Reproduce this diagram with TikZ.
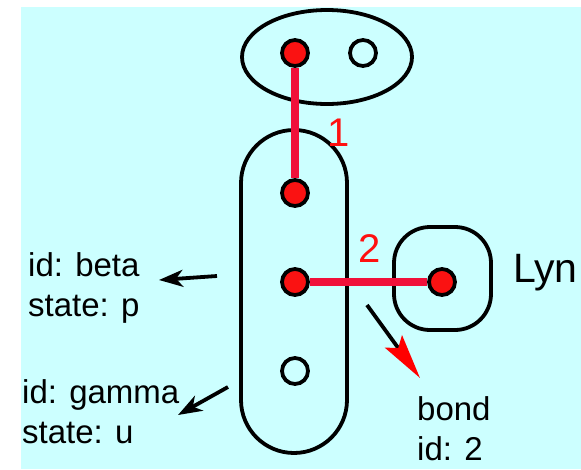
\documentclass[tikz,border=0pt]{standalone}
\usepackage{fontspec}
\setmainfont{Liberation Sans}
\usetikzlibrary{shapes}
\usetikzlibrary{arrows.meta}
\definecolor{bgcyan}{RGB}{204,255,255}
\definecolor{dotred}{RGB}{250,18,18}
\definecolor{bondred}{RGB}{240,16,58}
\definecolor{numred}{RGB}{255,16,16}
\tikzset{
    dotr/.style = {circle, line width=3.8pt, draw=black, fill=dotred, inner sep=0pt, minimum size=26pt},
    doto/.style = {circle, line width=3.8pt, draw=black, fill=none, inner sep=0pt, minimum size=26pt},
    groupe/.style = {ellipse, line width=3.8pt, draw=black, inner sep=0pt, minimum width=170pt, minimum height=94pt},
    groupc/.style = {rectangle, line width=3.8pt, draw=black, inner sep=0pt, minimum width=106pt, minimum height=323pt, rounded corners=53pt},
    groupk/.style = {rectangle, line width=3.8pt, draw=black, inner sep=0pt, minimum width=97pt, minimum height=103pt, rounded corners=36pt},
    info/.style = {inner sep=0pt, align=left, anchor=north west, font=\fontsize{33}{40}\selectfont},
    bondn/.style = {text=numred, inner sep=0pt, font=\fontsize{40}{44}\selectfont},
    bond/.style = {line width=8pt, draw=bondred},
    edgen/.style = {-{Stealth[length=24pt,width=17pt,inset=7pt]}, line width=3.8pt, black},
    edger/.style = {-{Stealth[length=45pt,width=21pt,inset=8pt,red]}, line width=3.8pt, black}
}
\begin{document}
\begin{tikzpicture}[x=1pt, y=-1pt]
  \useasboundingbox (0,0) rectangle (581,469);
  \fill[bgcyan] (21,7) rectangle (581,469);

  % groups
  \node[groupe] (top) at (327,57) {};
  \node[groupc] (chain) at (294,291.5) {};
  \node[groupk] (kin) at (442.5,278.5) {};

  % sites
  \node[dotr] (a1) at (295,53) {};
  \node[doto] (a2) at (363,53) {};
  \node[dotr] (b1) at (295,193) {};
  \node[dotr] (b2) at (295,282) {};
  \node[doto] (b3) at (295,371) {};
  \node[dotr] (c1) at (442,282) {};

  % bonds
  \draw[bond] (a1) -- (b1);
  \draw[bond] (b2) -- (c1);
  \node[bondn] (n1) at (339,133) {1};
  \node[bondn] (n2) at (370,249) {2};

  % labels
  \node[inner sep=0pt, anchor=base west, font=\fontsize{41}{44}\selectfont] (lyn) at (513,282) {Lyn};
  \node[info] (beta) at (28,252) {id: beta\\state: p};
  \node[info] (gamma) at (22,379) {id: gamma\\state: u};
  \node[info] (bondinfo) at (417,396) {bond\\id: 2};

  \coordinate (bt) at (217,276);
  \coordinate (bh) at (159,280);
  \coordinate (gt) at (228,387);
  \coordinate (gh) at (178,415);
  \coordinate (rt) at (367,305);
  \coordinate (rh) at (420,378);
  \draw[edgen] (bt) -- (bh);
  \draw[edgen] (gt) -- (gh);
  \draw[edger] (rt) -- (rh);
\end{tikzpicture}
\end{document}
